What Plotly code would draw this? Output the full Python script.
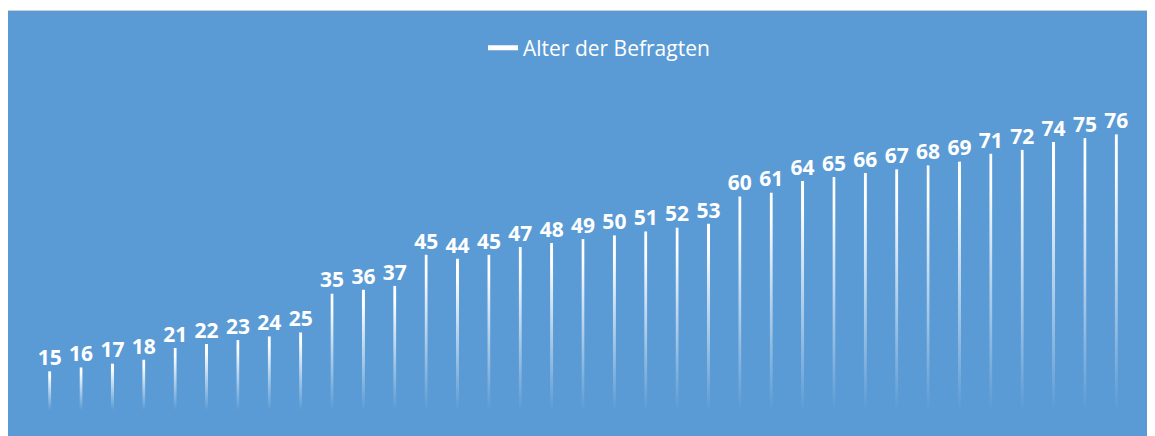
import base64
import plotly.graph_objects as go

# ---- data ----
befragte = list(range(1, 36))
alter = [15, 16, 17, 18, 21, 22, 23, 24, 25, 35, 36, 37, 45, 44, 45, 47, 48, 49,
         50, 51, 52, 53, 60, 61, 64, 65, 66, 67, 68, 69, 71, 72, 74, 75, 76]
series_name = "Alter der Befragten"

# ---- style ----
BLUE = "#5B9BD5"
Y_MIN = 5
Y_MAX = 84.8
BAR_W = 0.1
W, H = 1147, 428
ML, MR, MT, MB = 26, 23, 92, 26
PW, PH = W - ML - MR, H - MT - MB

svg = ('<svg xmlns="http://www.w3.org/2000/svg" width="10" height="100" viewBox="0 0 10 100" '
       'preserveAspectRatio="none"><defs><linearGradient id="g" x1="0" y1="0" x2="0" y2="1">'
       '<stop offset="0" stop-color="#ffffff" stop-opacity="1"/>'
       '<stop offset="0.12" stop-color="#ffffff" stop-opacity="1"/>'
       '<stop offset="0.55" stop-color="#ffffff" stop-opacity="0.5"/>'
       '<stop offset="1" stop-color="#ffffff" stop-opacity="0"/>'
       '</linearGradient></defs><rect x="0" y="0" width="10" height="100" fill="url(#g)"/></svg>')
grad_src = "data:image/svg+xml;base64," + base64.b64encode(svg.encode()).decode()

fig = go.Figure()
fig.add_trace(go.Bar(
    x=befragte, y=alter, width=BAR_W,
    marker=dict(color="rgba(255,255,255,0)", line=dict(width=0)),
    text=alter, textposition="outside", constraintext="none", cliponaxis=False,
    textfont=dict(family="Open Sans", size=21, color="white", weight="bold"),
    showlegend=False, hoverinfo="x+y",
))
# legend entry (line symbol as in reference)
fig.add_trace(go.Scatter(
    x=[None], y=[None], mode="lines", name=series_name,
    line=dict(color="white", width=5),
))

images = []
for xi, v in zip(befragte, alter):
    images.append(dict(
        source=grad_src, xref="x", yref="y",
        x=xi, y=v, sizex=BAR_W, sizey=v - Y_MIN,
        xanchor="center", yanchor="top", sizing="stretch", layer="above",
    ))


def px_to_paper_x(px):
    return (px - ML) / PW


def px_to_paper_y(py):
    return (H - MB - py) / PH


fig.update_layout(
    width=W, height=H,
    margin=dict(l=ML, r=MR, t=MT, b=MB, pad=0),
    paper_bgcolor="white",
    plot_bgcolor="rgba(0,0,0,0)",
    images=images,
    shapes=[dict(
        type="rect", xref="paper", yref="paper", layer="below",
        x0=px_to_paper_x(-1.5), x1=px_to_paper_x(W + 5),
        y0=px_to_paper_y(H + 5), y1=px_to_paper_y(2.5),
        fillcolor=BLUE, line=dict(color="#D0D0D0", width=1),
    )],
    xaxis=dict(range=[0.5, 35.5], visible=False, showgrid=False, zeroline=False),
    yaxis=dict(range=[Y_MIN, Y_MAX], visible=False, showgrid=False, zeroline=False),
    showlegend=True,
    legend=dict(
        orientation="h", x=px_to_paper_x(475), xanchor="left",
        y=px_to_paper_y(40), yanchor="middle",
        font=dict(family="Open Sans", size=21, color="white"),
        bgcolor="rgba(0,0,0,0)",
    ),
    bargap=0.9,
)

fig.write_html("out.html")
